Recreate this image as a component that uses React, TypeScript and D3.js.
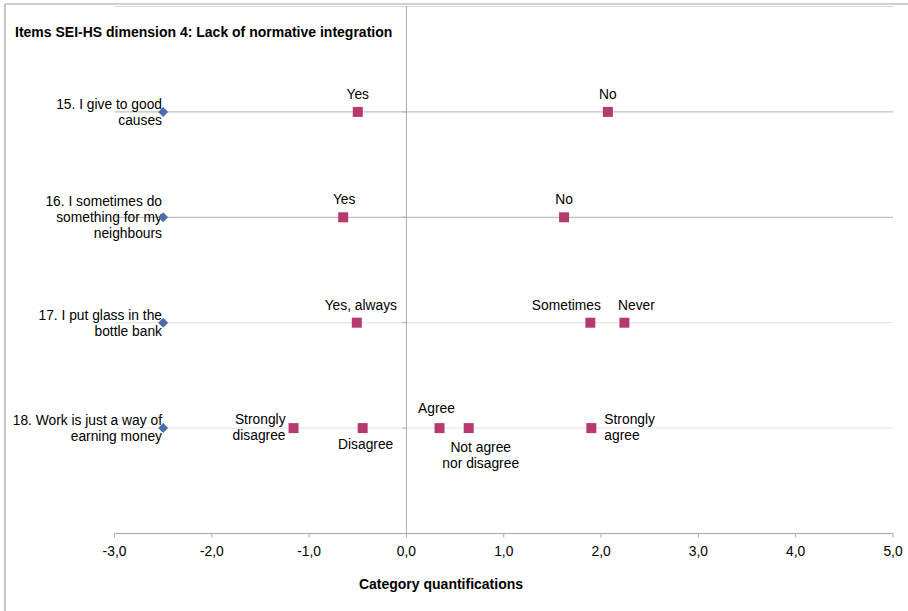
import React from "react";
import * as d3 from "d3";

// ---- data ----
const itemLabels: string[][] = [
  ["15. I give to good", "causes"],
  ["16. I sometimes do", "something for my", "neighbours"],
  ["17. I put glass in the", "bottle bank"],
  ["18. Work is just a way of", "earning money"],
];
const itemRows = [4, 3, 2, 1];
const itemMarkerValue = [-2.5, -2.5, -2.5, -2.5];

const categoryNames: string[][] = [
  ["Yes", "No"],
  ["Yes", "No"],
  ["Yes, always", "Sometimes", "Never"],
  ["Strongly disagree", "Disagree", "Agree", "Not agree nor disagree", "Strongly agree"],
];
const categoryValues: number[][] = [
  [-0.5, 2.07],
  [-0.65, 1.62],
  [-0.51, 1.89, 2.24],
  [-1.16, -0.45, 0.34, 0.64, 1.9],
];

const xTicks = [-3, -2, -1, 0, 1, 2, 3, 4, 5];
const title = "Items SEI-HS dimension 4: Lack of normative integration";
const xTitle = "Category quantifications";

// label placement (style, not data): side and horizontal shift
type Place = { side: "above" | "below" | "left" | "right"; dx: number; lines?: string[] };
const placements: Place[][] = [
  [{ side: "above", dx: 0 }, { side: "above", dx: 0 }],
  [{ side: "above", dx: 1 }, { side: "above", dx: 0 }],
  [{ side: "above", dx: 4 }, { side: "above", dx: -24 }, { side: "above", dx: 12 }],
  [
    { side: "left", dx: -8, lines: ["Strongly", "disagree"] },
    { side: "below", dx: 3 },
    { side: "above", dx: -3 },
    { side: "below", dx: 12, lines: ["Not agree", "nor disagree"] },
    { side: "right", dx: 13, lines: ["Strongly", "agree"] },
  ],
];

const W = 908;
const H = 611;
const FONT = "'Liberation Sans', Arial, sans-serif";
const FS = 13.8;

export default function App() {
  const x = d3.scaleLinear().domain([-3, 5]).range([114.5, 893]);
  const y = d3.scaleLinear().domain([0, 5]).range([533.5, 6.5]);
  const diamond = d3.symbol().type(d3.symbolSquare).size(50)();
  const square = d3.symbol().type(d3.symbolSquare).size(100)();
  const pink = "#b63a70";
  const blue = "#4f6bae";

  return (
    <svg
      width={W}
      height={H}
      style={{ position: "absolute", left: 0, top: 0, background: "#fff" }}
      fontFamily={FONT}
    >
      <rect x={0} y={0} width={W} height={H} fill="#fff" />
      {/* outer frame */}
      <line x1={5} x2={5} y1={4} y2={H} stroke="#a0a0a0" strokeWidth={1.2} />
      <line x1={5} x2={W} y1={4} y2={4} stroke="#a0a0a0" strokeWidth={1.2} />
      {/* plot top */}
      <line x1={x(-3)} x2={x(5)} y1={y(5)} y2={y(5)} stroke="#d6d6d6" />

      {/* row lines */}
      {itemRows.map((r, i) => (
        <line
          key={"row" + i}
          x1={x(-3)}
          x2={x(5)}
          y1={y(r)}
          y2={y(r)}
          stroke={i < 2 ? "#b0b0b0" : "#e2e2e2"}
        />
      ))}
      {/* zero line + small ticks */}
      <line x1={x(0)} x2={x(0)} y1={y(5)} y2={y(0)} stroke="#acacac" />
      {itemRows.map((r, i) => (
        <line key={"zt" + i} x1={x(0) - 4} x2={x(0)} y1={y(r)} y2={y(r)} stroke="#acacac" />
      ))}

      {/* x axis */}
      <line x1={x(-3)} x2={x(5)} y1={y(0)} y2={y(0)} stroke="#a8a8a8" />
      {xTicks.map((t) => (
        <g key={"t" + t}>
          <line x1={x(t)} x2={x(t)} y1={y(0)} y2={y(0) + 4} stroke="#a8a8a8" />
          <text x={x(t)} y={556} textAnchor="middle" fontSize={FS} fill="#000">
            {d3.format(".1f")(t).replace(".", ",").replace("−", "-")}
          </text>
        </g>
      ))}
      <text x={441} y={589} textAnchor="middle" fontSize={14} fontWeight="bold" fill="#000">
        {xTitle}
      </text>

      {/* title */}
      <text x={15} y={37} fontSize={14} fontWeight="bold" fill="#000">
        {title}
      </text>

      {/* item labels and diamonds */}
      {itemRows.map((r, i) => {
        const lines = itemLabels[i];
        const n = lines.length;
        const cy = y(r);
        return (
          <g key={"item" + i}>
            {lines.map((ln, k) => (
              <text
                key={k}
                x={162}
                y={cy + (k - (n - 1) / 2) * 16 + 5}
                textAnchor="end"
                fontSize={FS}
                fill="#000"
              >
                {ln}
              </text>
            ))}
            <path
              d={diamond!}
              transform={`translate(${x(itemMarkerValue[i])},${cy}) rotate(45)`}
              fill={blue}
            />
          </g>
        );
      })}

      {/* categories */}
      {itemRows.map((r, i) =>
        categoryValues[i].map((v, j) => {
          const px = x(v);
          const cy = y(r);
          const p = placements[i][j];
          const lines = p.lines ?? [categoryNames[i][j]];
          let anchor: "start" | "middle" | "end" = "middle";
          const tx = px + p.dx;
          let ys: number[] = [];
          if (p.side === "above") {
            ys = lines.map((_, k) => cy - 18 - (lines.length - 1 - k) * 16);
            if (i === 3) ys = ys.map((yy) => yy - 2);
          } else if (p.side === "below") {
            ys = lines.map((_, k) => cy + 19 + k * 16);
            if (i === 3 && j === 1) ys = [cy + 16];
          } else {
            anchor = p.side === "left" ? "end" : "start";
            ys = lines.map((_, k) => cy - 9 + k * 16);
          }
          return (
            <g key={`c${i}-${j}`}>
              <path d={square!} transform={`translate(${px},${cy})`} fill={pink} />
              {lines.map((ln, k) => (
                <text key={k} x={tx} y={ys[k] + 5} textAnchor={anchor} fontSize={FS} fill="#000">
                  {ln}
                </text>
              ))}
            </g>
          );
        })
      )}
    </svg>
  );
}
